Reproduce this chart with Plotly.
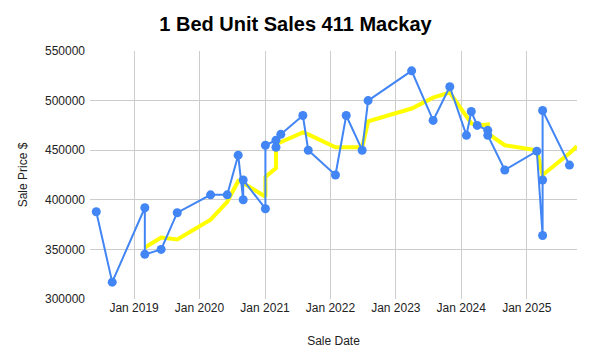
import plotly.graph_objects as go

sale_dates = [
    "2018-06-04", "2018-09-01", "2019-03-02", "2019-03-02", "2019-06-01",
    "2019-08-30", "2020-03-03", "2020-06-04", "2020-08-04", "2020-09-01",
    "2020-09-01", "2021-01-03", "2021-01-03", "2021-03-03", "2021-03-03",
    "2021-03-30", "2021-07-31", "2021-08-30", "2022-01-29", "2022-03-30",
    "2022-06-27", "2022-07-30", "2023-03-30", "2023-07-28", "2023-10-29",
    "2024-01-30", "2024-02-26", "2024-03-30", "2024-05-28", "2024-05-28",
    "2024-08-31", "2025-02-26", "2025-03-30", "2025-03-30", "2025-03-30",
    "2025-08-27",
]
sale_prices = [
    388000, 317000, 392000, 345000, 350000,
    387000, 405000, 405000, 445000, 400000,
    420000, 391000, 455000, 460000, 453000,
    466000, 485000, 450000, 425000, 485000,
    450000, 500000, 530000, 480000, 514000,
    465000, 489000, 475000, 470000, 465000,
    430000, 449000, 364000, 420000, 490000,
    435000,
]

trend_dates = [
    "2019-03-02", "2019-06-01", "2019-08-30", "2020-03-03", "2020-06-04",
    "2020-08-04", "2020-09-01", "2021-01-03", "2021-01-03", "2021-03-03",
    "2021-03-03", "2021-03-30", "2021-07-31", "2021-08-30", "2022-01-29",
    "2022-03-30", "2022-06-27", "2022-07-30", "2023-03-30", "2023-07-28",
    "2023-10-29", "2024-01-30", "2024-02-26", "2024-03-30", "2024-05-28",
    "2024-05-28", "2024-08-31", "2025-02-26", "2025-03-30", "2025-08-27",
    "2025-10-08",
]
trend_prices = [
    352000, 362000, 360000, 380000, 398000,
    419000, 417000, 403000, 423000, 432000,
    456000, 458000, 468000, 466000, 453000,
    453000, 453000, 479000, 492000, 503000,
    508000, 484000, 477000, 475000, 476000,
    467000, 455000, 450000, 425000, 447000,
    454000,
]

y_ticks = [300000, 350000, 400000, 450000, 500000, 550000]

FONT = "Arial, 'Liberation Sans', sans-serif"

fig = go.Figure()
fig.add_trace(go.Scatter(
    x=trend_dates, y=trend_prices, mode="lines",
    line=dict(color="#FFFF00", width=4),
    showlegend=False, hoverinfo="skip",
))
fig.add_trace(go.Scatter(
    x=sale_dates, y=sale_prices, mode="lines+markers",
    line=dict(color="#4285F4", width=2),
    marker=dict(color="#4285F4", size=9),
    showlegend=False,
))

fig.update_layout(
    width=591, height=358,
    margin=dict(l=90, r=14, t=51, b=59),
    paper_bgcolor="white", plot_bgcolor="white",
    font=dict(family=FONT, size=12, color="#222222"),
    title=dict(text="<b>1 Bed Unit Sales 411 Mackay</b>", x=0.5, xanchor="center",
               y=1 - 24 / 358, yanchor="middle",
               font=dict(family=FONT, size=20, color="#000000")),
    xaxis=dict(
        type="date", range=["2018-04-30", "2025-10-08"],
        tick0="2019-01-01", dtick="M12", tickformat="%b %Y",
        showgrid=True, gridcolor="#cccccc", gridwidth=1,
        zeroline=False, showline=False, ticks="",
        tickfont=dict(size=12, color="#222222"),
        title=dict(text="Sale Date", standoff=22, font=dict(size=12, color="#222222")),
    ),
    yaxis=dict(
        range=[300000, 550000], tickvals=y_ticks,
        ticktext=[str(v) for v in y_ticks],
        showgrid=True, gridcolor="#cccccc", gridwidth=1,
        zeroline=False, showline=False, ticks="",
        ticklabelstandoff=4,
        tickfont=dict(size=12, color="#222222"),
        title=dict(text="Sale Price $", standoff=14, font=dict(size=12, color="#222222")),
    ),
)

fig.write_html(
    "out.html",
    config={"displayModeBar": False},
    post_script="document.body.style.margin='0';document.body.style.padding='0';",
)
